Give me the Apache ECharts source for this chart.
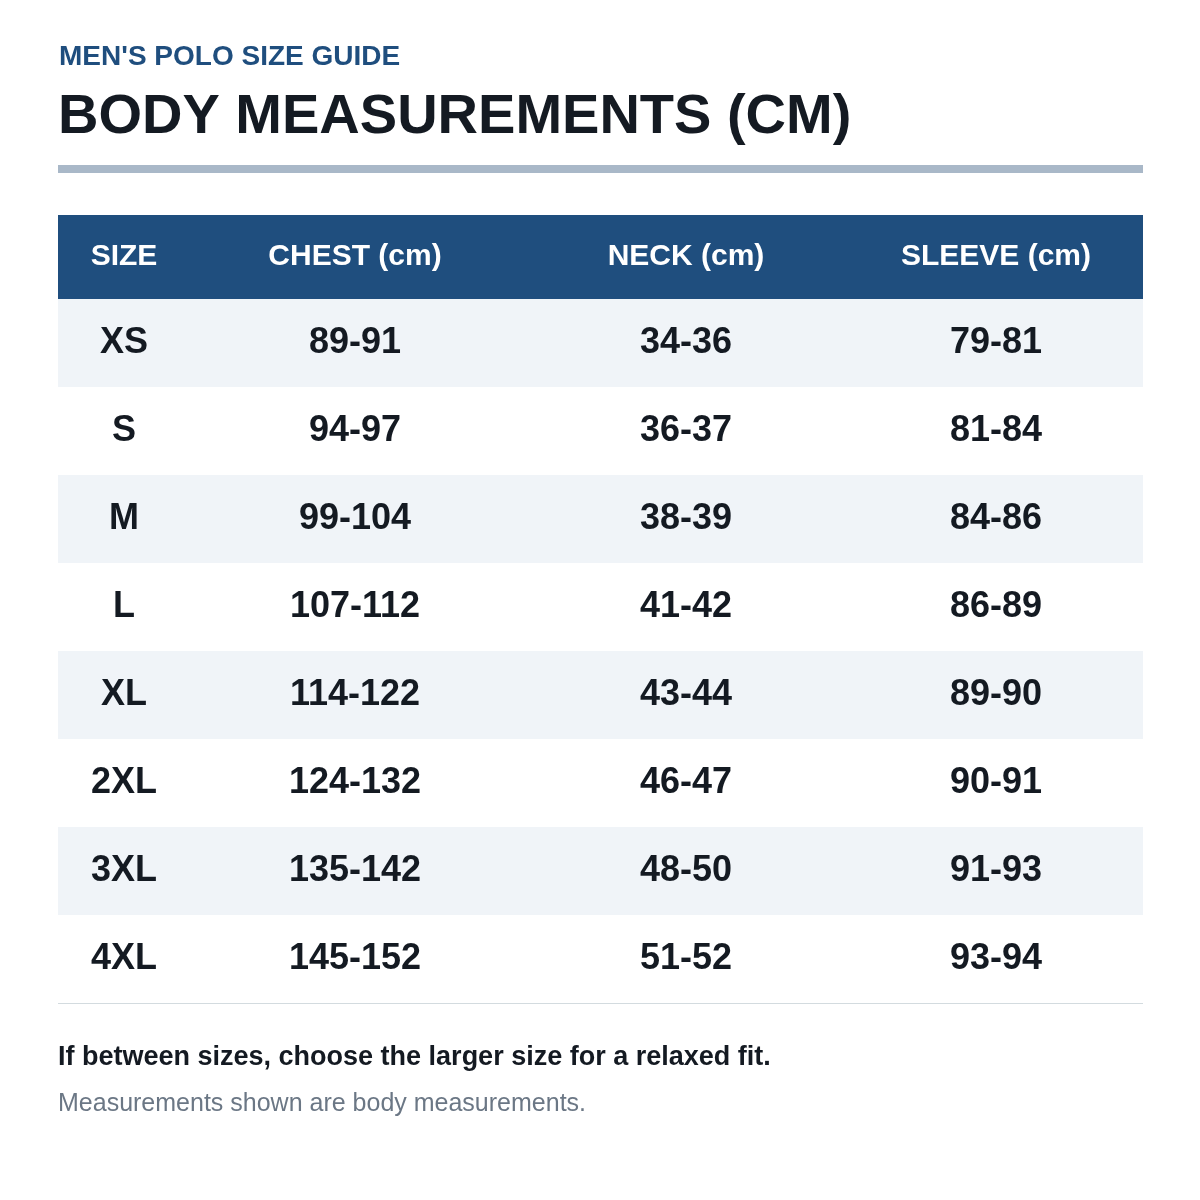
<!DOCTYPE html>
<html><head><meta charset="utf-8">
<script src="https://cdn.jsdelivr.net/npm/echarts@6/dist/echarts.min.js"></script>
<style>html,body{margin:0;padding:0;background:#fff}#c{width:1200px;height:1200px}</style>
</head><body><div id="c"></div>
<script>
const headers = ['SIZE','CHEST (cm)','NECK (cm)','SLEEVE (cm)'];
const sizes = ['XS','S','M','L','XL','2XL','3XL','4XL'];
const chest = ['89-91','94-97','99-104','107-112','114-122','124-132','135-142','145-152'];
const neck = ['34-36','36-37','38-39','41-42','43-44','46-47','48-50','51-52'];
const sleeve = ['79-81','81-84','84-86','86-89','89-90','90-91','91-93','93-94'];
const colCenters = [66, 297, 628, 938]; // relative to table left
const font = 'Liberation Sans, Arial, sans-serif';

const chart = echarts.init(document.getElementById('c'));
chart.setOption({
  backgroundColor:'#fff',
  animation:false,
  grid:{left:58, width:1085, top:299, height:704},
  xAxis:{type:'value', min:0, max:1085, show:false},
  yAxis:{type:'category', data:sizes, inverse:true, show:false},
  graphic:[
    {type:'text', left:59, top:43, style:{text:"MEN'S POLO SIZE GUIDE", fill:'#1f4e7e', font:'bold 28px '+font}},
    {type:'text', left:58, top:90, style:{text:'BODY MEASUREMENTS (CM)', fill:'#141a22', font:'bold 56px '+font}},
    {type:'rect', shape:{x:58,y:165,width:1085,height:8}, style:{fill:'#a9b8c8'}},
    {type:'rect', shape:{x:58,y:215,width:1085,height:84}, style:{fill:'#1f4e7e'}},
    ...headers.map((h,i)=>({type:'text', x:58+colCenters[i], y:257, style:{text:h, fill:'#fff', font:'bold 30px '+font, align:'center', verticalAlign:'middle'}})),
    {type:'rect', shape:{x:58,y:1002,width:1085,height:2}, style:{fill:'#d3dbdf'}},
    {type:'text', left:58, top:1044, style:{text:'If between sizes, choose the larger size for a relaxed fit.', fill:'#141a22', font:'bold 27px '+font}},
    {type:'text', left:58, top:1092, style:{text:'Measurements shown are body measurements.', fill:'#6b7785', font:'25px '+font}}
  ],
  series:[{
    type:'custom',
    data: sizes.map((s,i)=>[i, s, chest[i], neck[i], sleeve[i]]),
    renderItem:(params, api)=>{
      const idx = api.value(0);
      const c = api.coord([0, idx]);
      const bw = api.size([0,1])[1];
      const x0 = api.coord([0, idx])[0];
      const cells = [sizes[idx], chest[idx], neck[idx], sleeve[idx]];
      const children = [{
        type:'rect', shape:{x:x0, y:c[1]-bw/2, width:1085, height:bw},
        style:{fill: idx%2===0 ? '#f0f4f8' : '#ffffff'}
      }];
      cells.forEach((t,j)=>{
        children.push({type:'text', x: api.coord([colCenters[j], idx])[0], y:c[1],
          style:{text:t, fill:'#141a22', font:'bold 36px '+font, align:'center', verticalAlign:'middle'}});
      });
      return {type:'group', children};
    }
  }]
});
</script></body></html>
